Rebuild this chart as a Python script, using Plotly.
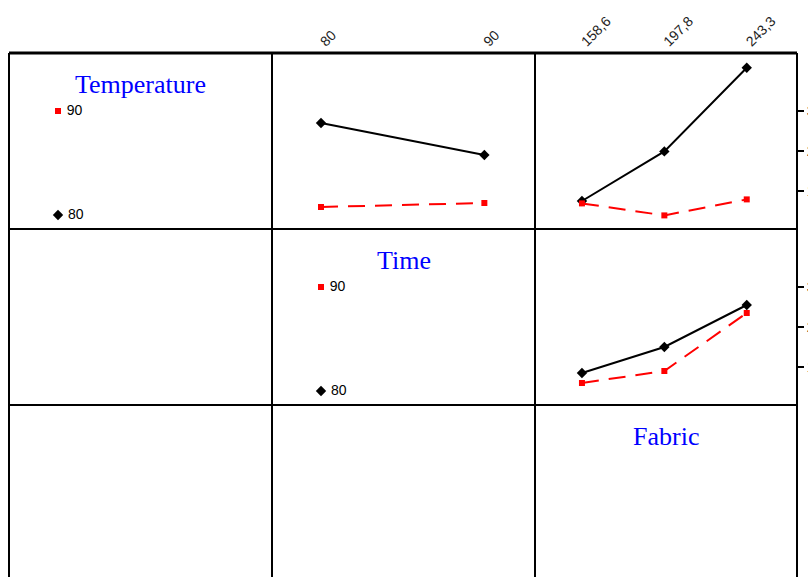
import plotly.graph_objects as go

# Factor levels
time_levels = ["80", "90"]
fabric_levels = ["158,6", "197,8", "243,3"]
temp_levels = ["80", "90"]

# Interaction means: Temperature lines across Time
temp80_by_time = [2.70, 1.90]
temp90_by_time = [0.60, 0.70]

# Temperature lines across Fabric
temp80_by_fabric = [0.75, 1.99, 4.08]
temp90_by_fabric = [0.69, 0.39, 0.79]

# Time lines across Fabric
time80_by_fabric = [0.85, 1.50, 2.55]
time90_by_fabric = [0.60, 0.90, 2.35]

# Y positions of the level keys in the diagonal cells
key_y = [0.4, 3.0]

y_ticks = [1, 2, 3]
y_ticktext = ["1", "2", "3"]

W, H = 808, 577


def fx(x):
    return x / W


def fy(y):
    return 1 - y / H


col_edges = [9, 272, 535, 797]
row_edges = [53, 229, 405, 581]

black = dict(color="black", width=2)
red = dict(color="red", width=2, dash="17px,10px")
black_marker = dict(symbol="diamond", size=8, color="black")
red_marker = dict(symbol="square", size=6, color="red")

fig = go.Figure()

# Row 1, column 2: Temperature x Time
fig.add_trace(go.Scatter(x=[0, 1], y=temp80_by_time, mode="lines+markers",
                         line=black, marker=black_marker, xaxis="x", yaxis="y"))
fig.add_trace(go.Scatter(x=[0, 1], y=temp90_by_time, mode="lines+markers",
                         line=red, marker=red_marker, xaxis="x", yaxis="y"))

# Row 1, column 3: Temperature x Fabric
fig.add_trace(go.Scatter(x=[0, 1, 2], y=temp80_by_fabric, mode="lines+markers",
                         line=black, marker=black_marker, xaxis="x2", yaxis="y2"))
fig.add_trace(go.Scatter(x=[0, 1, 2], y=temp90_by_fabric, mode="lines+markers",
                         line=red, marker=red_marker, xaxis="x2", yaxis="y2"))

# Row 2, column 3: Time x Fabric
fig.add_trace(go.Scatter(x=[0, 1, 2], y=time80_by_fabric, mode="lines+markers",
                         line=black, marker=black_marker, xaxis="x3", yaxis="y3"))
fig.add_trace(go.Scatter(x=[0, 1, 2], y=time90_by_fabric, mode="lines+markers",
                         line=red, marker=red_marker, xaxis="x3", yaxis="y3"))

# Level keys in the diagonal cells
key_font = dict(family="Arial, Liberation Sans", size=14, color="black")
for xa, ya, levels in (("x4", "y4", temp_levels), ("x5", "y5", time_levels)):
    fig.add_trace(go.Scatter(x=[0], y=[key_y[0]], mode="markers+text", text=[" " + levels[0]],
                             textposition="middle right", textfont=key_font,
                             marker=black_marker, xaxis=xa, yaxis=ya))
    fig.add_trace(go.Scatter(x=[0], y=[key_y[1]], mode="markers+text", text=[" " + levels[1]],
                             textposition="middle right", textfont=key_font,
                             marker=red_marker, xaxis=xa, yaxis=ya))

yr = [0.05, 4.45]
two_range = [-0.30, 1.31]
three_range = [-0.57, 2.61]
tick_font = dict(family="Arial, Liberation Sans", size=14, color="#222")


def row_dom(r):
    return [fy(row_edges[r + 1]), fy(row_edges[r])]


def col_dom(c):
    return [fx(col_edges[c]), fx(col_edges[c + 1])]


plain = dict(showgrid=False, zeroline=False, showline=False, automargin=False)

fig.update_layout(
    width=W, height=H,
    margin=dict(l=0, r=0, t=0, b=0, pad=0, autoexpand=False),
    paper_bgcolor="white", plot_bgcolor="rgba(0,0,0,0)",
    showlegend=False,
    xaxis=dict(domain=col_dom(1), range=two_range, side="top", anchor="y",
               tickvals=[0, 1], ticktext=time_levels, tickangle=-45,
               tickfont=tick_font, ticks="", **plain),
    yaxis=dict(domain=row_dom(0), range=yr, anchor="x", visible=False, **plain),
    xaxis2=dict(domain=col_dom(2), range=three_range, side="top", anchor="y2",
                tickvals=[0, 1, 2], ticktext=fabric_levels, tickangle=-45,
                tickfont=tick_font, ticks="", **plain),
    yaxis2=dict(domain=row_dom(0), range=yr, anchor="x2", side="right",
                tickvals=y_ticks, ticktext=y_ticktext, ticks="outside", ticklen=6,
                tickwidth=2, tickcolor="black", tickfont=tick_font, **plain),
    yaxis6=dict(overlaying="y2", range=yr, anchor="x2", side="right",
                tickvals=y_ticks, showticklabels=False, ticks="inside", ticklen=4,
                tickwidth=2, tickcolor="black", **plain),
    xaxis3=dict(domain=col_dom(2), range=three_range, anchor="y3", visible=False, **plain),
    yaxis3=dict(domain=row_dom(1), range=yr, anchor="x3", side="right",
                tickvals=y_ticks, ticktext=y_ticktext, ticks="outside", ticklen=6,
                tickwidth=2, tickcolor="black", tickfont=tick_font, **plain),
    yaxis7=dict(overlaying="y3", range=yr, anchor="x3", side="right",
                tickvals=y_ticks, showticklabels=False, ticks="inside", ticklen=4,
                tickwidth=2, tickcolor="black", **plain),
    xaxis4=dict(domain=col_dom(0), range=two_range, anchor="y4", visible=False, **plain),
    yaxis4=dict(domain=row_dom(0), range=yr, anchor="x4", visible=False, **plain),
    xaxis5=dict(domain=col_dom(1), range=two_range, anchor="y5", visible=False, **plain),
    yaxis5=dict(domain=row_dom(1), range=yr, anchor="x5", visible=False, **plain),
)

# Factor names on the diagonal
title_font = dict(family="Times New Roman, Liberation Serif", size=26, color="blue")
for name, c, r in (("Temperature", 0, 0), ("Time", 1, 1), ("Fabric", 2, 2)):
    cx = (col_edges[c] + col_edges[c + 1]) / 2
    fig.add_annotation(x=fx(cx), y=fy(row_edges[r] + 31), xref="paper", yref="paper",
                       text=name, showarrow=False, font=title_font,
                       xanchor="center", yanchor="middle")

# Matrix grid
shapes = []
for i, y in enumerate(row_edges[:-1]):
    shapes.append(dict(type="line", xref="paper", yref="paper",
                       x0=fx(col_edges[0]), x1=fx(col_edges[-1]), y0=fy(y), y1=fy(y),
                       line=dict(color="black", width=3 if i == 0 else 2)))
for x in col_edges:
    shapes.append(dict(type="line", xref="paper", yref="paper",
                       x0=fx(x), x1=fx(x), y0=fy(row_edges[0]), y1=fy(600),
                       line=dict(color="black", width=2)))
fig.update_layout(shapes=shapes)

fig.write_html("out.html")
